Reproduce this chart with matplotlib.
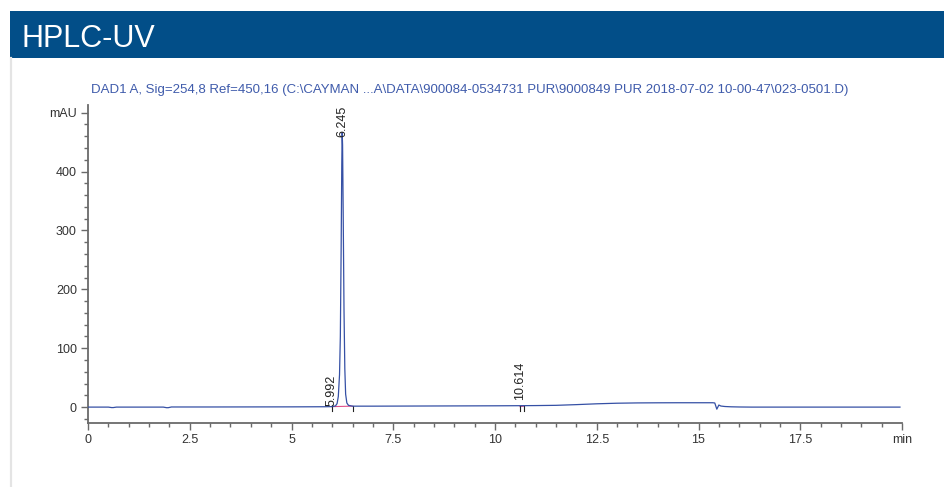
import matplotlib
matplotlib.use("Agg")
import matplotlib.pyplot as plt
from matplotlib.patches import Rectangle
from matplotlib.lines import Line2D
from matplotlib.ticker import MultipleLocator

plt.rcParams['font.family'] = ['Liberation Sans', 'DejaVu Sans']

# ---- data ----
time_min = [0.0, 0.50, 0.58, 0.62, 0.70, 1.85, 1.93, 1.97, 2.05, 3.0, 4.0, 5.0, 5.8,
            5.992, 6.08, 6.12, 6.15, 6.18, 6.20, 6.22, 6.235, 6.245, 6.255, 6.27,
            6.29, 6.31, 6.33, 6.36, 6.40, 6.50, 7.0, 8.0, 9.0, 10.0, 10.614,
            11.0, 11.5, 12.0, 12.5, 13.0, 13.5, 14.0, 14.5, 15.0, 15.35, 15.40,
            15.45, 15.50, 15.55, 15.65, 15.8, 16.0, 16.3, 17.0, 18.0, 19.0, 19.95]
signal_mau = [0.0, 0.0, -0.8, -0.8, 0.0, 0.0, -1.0, -1.0, 0.2, 0.2, 0.3, 0.4, 0.6,
              0.8, 2.0, 6.0, 18.0, 55.0, 120.0, 270.0, 410.0, 466.0, 445.0, 330.0,
              165.0, 65.0, 22.0, 7.0, 3.0, 1.6, 1.6, 1.8, 2.0, 2.2, 2.4,
              2.6, 3.0, 4.2, 5.6, 6.6, 7.1, 7.3, 7.4, 7.4, 7.4, 7.0,
              -3.5, 3.5, 1.8, 1.0, 0.5, 0.2, 0.0, 0.0, 0.0, 0.0, 0.0]

peak_rt = [5.992, 6.245, 10.614]
peak_label_y = [2.0, 459.0, 12.0]
peak_labels = ["5.992", "6.245", "10.614"]
baseline_start = [5.992, 10.614]
baseline_end = [6.50, 10.72]

x_major = [0, 2.5, 5, 7.5, 10, 12.5, 15, 17.5, 20]
x_labels = ["0", "2.5", "5", "7.5", "10", "12.5", "15", "17.5", "min"]
y_major = [0, 100, 200, 300, 400, 500]
y_labels = ["0", "100", "200", "300", "400", "mAU"]

W, H = 944, 487
fig = plt.figure(figsize=(W / 100, H / 100), dpi=100)
fig.patch.set_facecolor('white')

# header banner
fig.patches.append(Rectangle((10 / W, 1 - 58 / H), (W - 10) / W, 47 / H,
                             transform=fig.transFigure, facecolor='#024e88',
                             edgecolor='none', zorder=0))
fig.text(22 / W, 1 - 47 / H, "HPLC-UV", color='white', fontsize=22,
         ha='left', va='baseline')
# left panel border
fig.lines.append(Line2D([10.5 / W, 10.5 / W], [0, 1 - 58 / H], transform=fig.transFigure,
                        color='#e4e4e4', lw=1.6))

# signal title
fig.text(91 / W, 1 - 90 / H,
         "DAD1 A, Sig=254,8 Ref=450,16 (C:\\CAYMAN ...A\\DATA\\900084-0534731 PUR\\9000849 PUR 2018-07-02 10-00-47\\023-0501.D)",
         color='#3f5bab', fontsize=9.5, ha='left', va='center')

left, right = 88 / W, 902 / W
bottom, top = 1 - 423 / H, 1 - 105 / H
ax = fig.add_axes([left, bottom, right - left, top - bottom])
ax.set_xlim(0, 20)
ax.set_ylim(-27, 513)
for s in ['top', 'right']:
    ax.spines[s].set_visible(False)
for s in ['left', 'bottom']:
    ax.spines[s].set_color('#6a6a6a')
    ax.spines[s].set_linewidth(1.3)

ax.plot(time_min, signal_mau, color='#3550a5', lw=0.9, zorder=3)

# integration baselines
for bs, be in zip(baseline_start, baseline_end):
    ax.plot([bs, be], [0.8, 1.6], color='#e0508a', lw=0.8, zorder=2)
    for xx in (bs, be):
        ax.plot([xx, xx], [-6, 2], color='#222222', lw=0.8, zorder=2)

for rt, ly, lab in zip(peak_rt, peak_label_y, peak_labels):
    ax.text(rt, ly, lab, rotation=90, ha='center', va='bottom', fontsize=9,
            color='#222222', zorder=4)

ax.set_xticks(x_major)
ax.set_xticklabels(x_labels)
ax.set_yticks(y_major)
ax.set_yticklabels(y_labels)
ax.xaxis.set_minor_locator(MultipleLocator(0.5))
ax.yaxis.set_minor_locator(MultipleLocator(20))
ax.tick_params(axis='both', which='major', length=5, width=1, color='#6a6a6a',
               labelsize=9, labelcolor='#333333', pad=3)
ax.tick_params(axis='both', which='minor', length=3, width=1, color='#6a6a6a')
ax.tick_params(axis='x', which='both', direction='out')
ax.tick_params(axis='y', which='both', direction='out')

fig.savefig('out.png', dpi=100, facecolor='white')
